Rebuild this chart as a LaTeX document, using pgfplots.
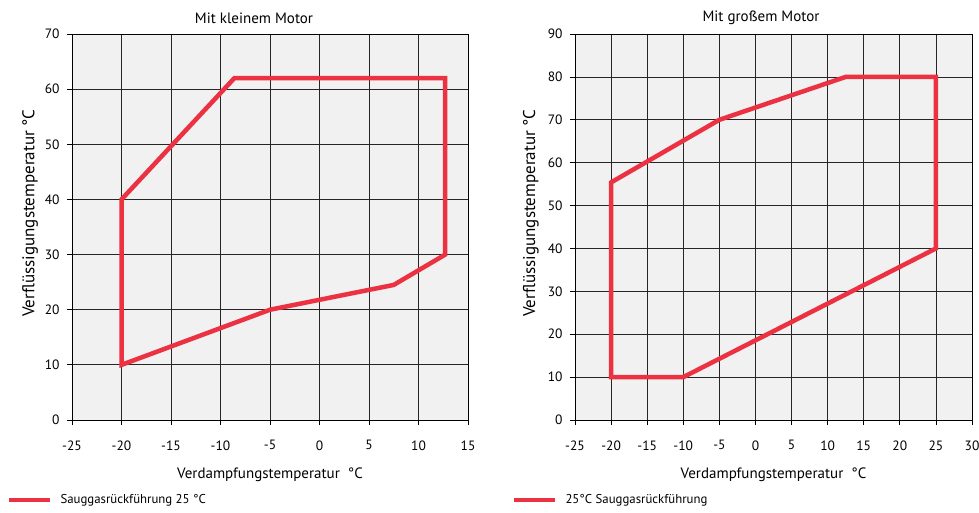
\documentclass[border=0pt]{standalone}
\usepackage{pgfplots}
\pgfplotsset{compat=1.18}
\usepackage{fontspec}
\setmainfont{PT Sans}
\definecolor{myred}{RGB}{236,50,66}
\definecolor{bg}{RGB}{240,241,240}
\pgfplotsset{
  every axis title shift=0pt,
  mystyle/.style={
    scale only axis,
    height=386pt,
    ymin=0,
    axis background/.style={fill=bg},
    grid=major,
    major grid style={black!85,line width=0.8pt},
    axis line style={black,line width=0.8pt},
    tick align=outside,
    tick pos=left,
    major tick length=5pt,
    tick style={black,line width=0.8pt},
    /pgf/number format/assume math mode=true,
    ticklabel style={font=\fontsize{13.5}{15}\selectfont},
    xticklabel style={yshift=-12pt},
    yticklabel style={xshift=-4pt},
    label style={font=\fontsize{15}{17}\selectfont},
    xlabel style={at={(axis description cs:0.5,-0.142)},anchor=center},
    ylabel style={at={(axis description cs:-0.106,0.536)},anchor=center,rotate=0,font=\fontsize{17}{19}\selectfont},
    legend style={draw=none,fill=none,inner sep=0pt,outer sep=0pt,
      nodes={inner sep=0pt},column sep=0pt,
      font=\fontsize{12.8}{14}\selectfont,anchor=west},
    legend cell align=left,
    legend image code/.code={\draw[#1,line width=4.5pt] (0pt,0pt) -- (41pt,0pt);\path (49pt,0pt);},
  }
}
\begin{document}
\begin{tikzpicture}
\path[use as bounding box] (0pt,0pt) rectangle (979pt,-512pt);
\begin{axis}[mystyle,
  at={(72pt,-420pt)},anchor=south west,
  width=396pt,
  xmin=-25,xmax=15,ymax=70,
  xtick={-25,-20,...,15},
  xticklabels={{-25},{-20},{-15},{-10},{-5},{0},{5},{10},{15}},
  ytick={0,10,...,70},
  title={Mit kleinem Motor},
  title style={at={(axis description cs:0.4596,1.0415)},anchor=center,font=\fontsize{15}{17}\selectfont},
  xlabel={Verdampfungstemperatur\ \ °C},
  ylabel={Verflüssigungstemperatur °C},
  legend style={at={(axis description cs:-0.1641,-0.2073)}},
]
\addplot[myred,line width=4.5pt,line join=miter] coordinates {
(-20,10) (-20,40) (-8.6,62) (12.7,62) (12.7,30) (7.5,24.5) (-5,20) (-20,10)
} -- cycle;
\addlegendentry{Sauggasrückführung 25 °C}
\end{axis}
\begin{axis}[mystyle,
  at={(575pt,-420pt)},anchor=south west,
  width=397pt,
  xmin=-25,xmax=30,ymax=90,
  xtick={-25,-20,...,30},
  xticklabels={{-25},{-20},{-15},{-10},{-5},{0},{5},{10},{15},{20},{25},{30}},
  ytick={0,10,...,90},
  title={Mit großem Motor},
  title style={at={(axis description cs:0.4685,1.0415)},anchor=center,font=\fontsize{15}{17}\selectfont},
  xlabel={Verdampfungstemperatur\ \ °C},
  ylabel={Verflüssigungstemperatur °C},
  ylabel style={at={(axis description cs:-0.111,0.536)}},
  legend style={at={(axis description cs:-0.1587,-0.2073)}},
]
\addplot[myred,line width=4.5pt,line join=miter] coordinates {
(-20,10) (-20,55.4) (-5,70) (12.5,80) (25,80) (25,40) (-10,10) (-20,10)
} -- cycle;
\addlegendentry{25°C Sauggasrückführung}
\end{axis}
\end{tikzpicture}
\end{document}
